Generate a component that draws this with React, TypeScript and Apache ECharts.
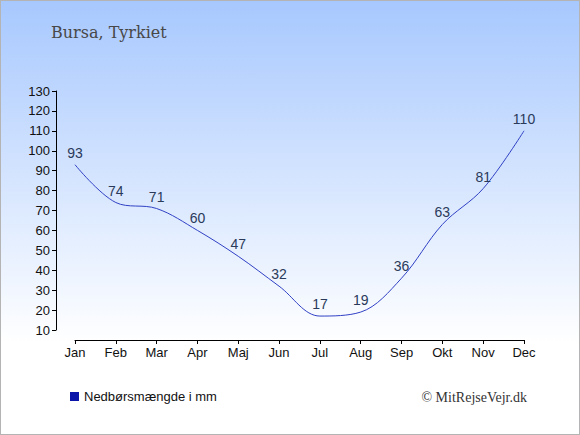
import React, { useEffect, useRef } from "react";
import * as echarts from "echarts";

const months = ["Jan", "Feb", "Mar", "Apr", "Maj", "Jun", "Jul", "Aug", "Sep", "Okt", "Nov", "Dec"];
const precipitation = [93, 74, 71, 60, 47, 32, 17, 19, 36, 63, 81, 110];
const seriesName = "Nedbørsmængde i mm";
const titleText = "Bursa, Tyrkiet";
const creditText = "© MitRejseVejr.dk";

export default function App() {
  const ref = useRef<HTMLDivElement>(null);
  useEffect(() => {
    document.body.style.margin = "0";
    const chart = echarts.init(ref.current!, null, { renderer: "svg" });
    chart.setOption({
      animation: false,
      backgroundColor: {
        type: "linear",
        x: 0,
        y: 0,
        x2: 0,
        y2: 1,
        colorStops: [
          { offset: 0, color: "#a7c8fe" },
          { offset: 0.79, color: "#ffffff" },
          { offset: 1, color: "#ffffff" },
        ],
      },
      title: {
        text: titleText,
        left: 45,
        top: 18,
        textStyle: {
          fontFamily: "DejaVu Serif",
          fontWeight: "normal",
          fontSize: 16,
          color: "#484848",
        },
      },
      graphic: [
        {
          type: "text",
          right: 52,
          top: 389,
          style: {
            text: creditText,
            font: "14px 'Liberation Serif'",
            fill: "#333333",
          },
        },
      ],
      legend: {
        left: 64,
        top: 384,
        icon: "rect",
        itemWidth: 9,
        itemHeight: 9,
        itemGap: 6,
        textStyle: { fontFamily: "Liberation Sans", fontSize: 13, color: "#111111" },
        data: [{ name: seriesName, itemStyle: { color: "#0a14a8" } }],
      },
      grid: { left: 74, right: 55, top: 90, bottom: 104 },
      xAxis: {
        type: "category",
        data: months,
        boundaryGap: false,
        offset: 10,
        axisLine: { lineStyle: { color: "#000000", width: 1 } },
        axisTick: { length: 4, lineStyle: { color: "#000000" } },
        axisLabel: { fontFamily: "Liberation Sans", fontSize: 13, color: "#111111", margin: 6 },
        splitLine: { show: false },
      },
      yAxis: {
        type: "value",
        min: 10,
        max: 130,
        interval: 10,
        offset: 19,
        axisLine: { show: true, lineStyle: { color: "#000000", width: 1 } },
        axisTick: { show: true, length: 4, lineStyle: { color: "#000000" } },
        axisLabel: { fontFamily: "Liberation Sans", fontSize: 13, color: "#111111", margin: 6 },
        splitLine: { show: false },
      },
      series: [
        {
          name: seriesName,
          type: "line",
          data: precipitation,
          smooth: 0.35,
          symbol: "circle",
          symbolSize: 0,
          showSymbol: true,
          lineStyle: { color: "#3040c4", width: 1 },
          itemStyle: { color: "#3040c4" },
          label: {
            show: true,
            position: "top",
            distance: 5,
            fontFamily: "Liberation Sans",
            fontSize: 14,
            color: "#2a3a5a",
          },
        },
      ],
    });
    return () => chart.dispose();
  }, []);
  return (
    <div
      ref={ref}
      style={{ width: 580, height: 435, boxSizing: "border-box", border: "1px solid #b4b4b4" }}
    />
  );
}
